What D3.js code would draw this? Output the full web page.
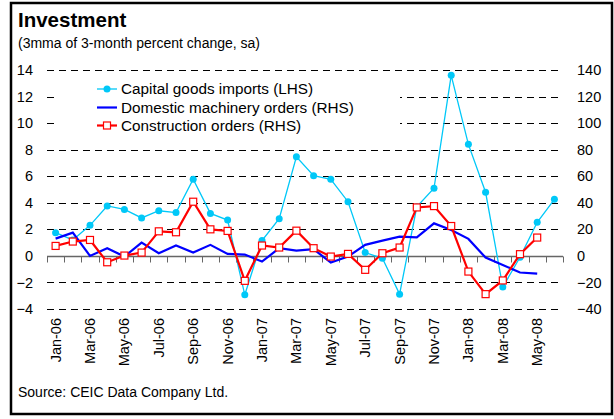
<!DOCTYPE html>
<html>
<head>
<meta charset="utf-8">
<script src="https://cdn.jsdelivr.net/npm/d3@7"></script>
<style>
  html, body { margin: 0; padding: 0; background: #fff; }
  svg { display: block; }
  text { font-family: "Liberation Sans", Arial, sans-serif; fill: #000; }
</style>
</head>
<body>
<svg id="chart" width="614" height="419"></svg>
<script>
// ---- Data ----
const months = ["Jan-06","Feb-06","Mar-06","Apr-06","May-06","Jun-06","Jul-06","Aug-06","Sep-06","Oct-06","Nov-06","Dec-06",
                "Jan-07","Feb-07","Mar-07","Apr-07","May-07","Jun-07","Jul-07","Aug-07","Sep-07","Oct-07","Nov-07","Dec-07",
                "Jan-08","Feb-08","Mar-08","Apr-08","May-08","Jun-08"];
const capitalGoods = [1.75, 1.2, 2.3, 3.76, 3.5, 2.86, 3.4, 3.26, 5.77, 3.2, 2.7, -2.93,
                      1.15, 2.8, 7.47, 6.04, 5.77, 4.08, 0.25, -0.18, -2.88, 3.7, 5.09, 13.6,
                      8.4, 4.79, -2.35, -0.1, 2.53, 4.26];
const machinery = [13, 17.5, 0, 5.8, -0.5, 10, 2, 7.8, 2.5, 8.3, 1.5, 1,
                   -4.3, 5.8, 4, 5, -5, -0.5, 8.3, 11.5, 14.5, 14, 24.5, 19.5,
                   12.8, -1.3, -6.8, -12.5, -13.3, null];
const construction = [7.5, 10.8, 12, -4.8, 0.25, 2.5, 18.5, 17.8, 40.8, 20, 18.8, -18.8,
                      7.8, 6.3, 19, 5.8, -0.5, 1.5, -10.5, 2, 6.3, 36.5, 37.5, 22.5,
                      -11.8, -28.8, -18.5, 1.3, 13.8, null];
const leftTicks = [-4, -2, 0, 2, 4, 6, 8, 10, 12, 14];
const rightTicks = [-40, -20, 0, 20, 40, 60, 80, 100, 120, 140];
const xLabels = months.filter((m, i) => i % 2 === 0);
const seriesNames = ["Capital goods imports (LHS)", "Domestic machinery orders (RHS)", "Construction orders (RHS)"];
const title = "Investment";
const subtitle = "(3mma of 3-month percent change, sa)";
const source = "Source: CEIC Data Company Ltd.";

// ---- Layout ----
const svg = d3.select("#chart");
const cyan = "#00C8F8", blue = "#0000FF", red = "#FF0000";

svg.append("rect").attr("x", 11).attr("y", 3).attr("width", 601).attr("height", 411)
  .attr("fill", "#fff").attr("stroke", "#000").attr("stroke-width", 2.5);

const x = d3.scaleBand().domain(months).range([47, 563]);
const cx = d => x(d) + x.bandwidth() / 2;
const yL = d3.scaleLinear().domain([-4, 14]).range([309, 70]);
const yR = d3.scaleLinear().domain([-40, 140]).range([309, 70]);

svg.append("text").attr("x", 18).attr("y", 27).text(title)
  .style("font-size", "20.5px").style("font-weight", "bold");
svg.append("text").attr("x", 18).attr("y", 48).text(subtitle).style("font-size", "14px");
svg.append("text").attr("x", 18).attr("y", 397).text(source).style("font-size", "14px");

// gridlines
const grid = svg.append("g");
grid.selectAll("line").data(leftTicks.filter(t => t !== 0)).join("line")
  .attr("x1", 47).attr("x2", 563)
  .attr("y1", d => Math.round(yL(d)) + 0.5).attr("y2", d => Math.round(yL(d)) + 0.5)
  .attr("stroke", "#000").attr("stroke-width", 1).attr("stroke-dasharray", "7,5");

// left axis labels
const leftAxis = d3.axisLeft(yL).tickValues(leftTicks).tickSize(0).tickPadding(0);
const gL = svg.append("g").attr("transform", "translate(33,0)").call(leftAxis);
gL.select(".domain").remove();
gL.selectAll("text").style("font-size", "14.5px").style("font-family", "Liberation Sans, Arial, sans-serif").attr("fill", "#000");

const rightAxis = d3.axisRight(yR).tickValues(rightTicks).tickSize(0).tickPadding(0);
const gR = svg.append("g").attr("transform", "translate(577,0)").call(rightAxis);
gR.select(".domain").remove();
gR.selectAll("text").style("font-size", "14.5px").style("font-family", "Liberation Sans, Arial, sans-serif").attr("fill", "#000");

// zero axis with ticks
const y0 = Math.round(yL(0)) + 0.5;
const zeroAxis = svg.append("g");
zeroAxis.append("line").attr("x1", 47).attr("x2", 563).attr("y1", y0).attr("y2", y0)
  .attr("stroke", "#666").attr("stroke-width", 1.5);
const boundaries = months.map(m => x(m)).concat([x(months[months.length - 1]) + x.bandwidth()]);
zeroAxis.selectAll("line.tk").data(boundaries).join("line").attr("class", "tk")
  .attr("x1", d => Math.round(d) + 0.5).attr("x2", d => Math.round(d) + 0.5)
  .attr("y1", y0).attr("y2", y0 + 6).attr("stroke", "#666").attr("stroke-width", 1);

// x labels
svg.append("g").selectAll("text").data(xLabels).join("text")
  .attr("transform", d => `translate(${cx(d)},318) rotate(-90)`)
  .attr("text-anchor", "end").attr("dy", "0.35em")
  .style("font-size", "14.5px").text(d => d);

// legend background
svg.append("rect").attr("x", 55).attr("y", 76).attr("width", 345).attr("height", 60).attr("fill", "#fff");

// series
const lineL = d3.line().defined(d => d[1] !== null).x(d => cx(d[0])).y(d => yL(d[1]));
const lineR = d3.line().defined(d => d[1] !== null).x(d => cx(d[0])).y(d => yR(d[1]));
const capData = months.map((m, i) => [m, capitalGoods[i]]);
const macData = months.map((m, i) => [m, machinery[i]]);
const conData = months.map((m, i) => [m, construction[i]]);

svg.append("path").datum(capData).attr("d", lineL).attr("fill", "none").attr("stroke", cyan).attr("stroke-width", 1.3);
svg.append("g").selectAll("circle").data(capData.filter(d => d[1] !== null)).join("circle")
  .attr("cx", d => cx(d[0])).attr("cy", d => yL(d[1])).attr("r", 3.5).attr("fill", cyan);

svg.append("path").datum(macData).attr("d", lineR).attr("fill", "none").attr("stroke", blue).attr("stroke-width", 2.2);

svg.append("path").datum(conData).attr("d", lineR).attr("fill", "none").attr("stroke", red).attr("stroke-width", 2.2);
svg.append("g").selectAll("rect").data(conData.filter(d => d[1] !== null)).join("rect")
  .attr("x", d => cx(d[0]) - 3.5).attr("y", d => yR(d[1]) - 3.5).attr("width", 7).attr("height", 7)
  .attr("fill", "#fff").attr("stroke", red).attr("stroke-width", 1.2);

// legend
const lg = svg.append("g");
const rows = [89, 107.5, 125.5];
lg.append("line").attr("x1", 97).attr("x2", 117).attr("y1", rows[0]).attr("y2", rows[0]).attr("stroke", cyan).attr("stroke-width", 1.3);
lg.append("circle").attr("cx", 107).attr("cy", rows[0]).attr("r", 3.5).attr("fill", cyan);
lg.append("line").attr("x1", 97).attr("x2", 117).attr("y1", rows[1]).attr("y2", rows[1]).attr("stroke", blue).attr("stroke-width", 2.2);
lg.append("line").attr("x1", 97).attr("x2", 117).attr("y1", rows[2]).attr("y2", rows[2]).attr("stroke", red).attr("stroke-width", 2.2);
lg.append("rect").attr("x", 103.5).attr("y", rows[2] - 3.5).attr("width", 7).attr("height", 7)
  .attr("fill", "#fff").attr("stroke", red).attr("stroke-width", 1.2);
lg.selectAll("text").data(seriesNames).join("text")
  .attr("x", 121).attr("y", (d, i) => rows[i]).attr("dy", "0.35em")
  .style("font-size", "15.3px").text(d => d);
</script>
</body>
</html>
